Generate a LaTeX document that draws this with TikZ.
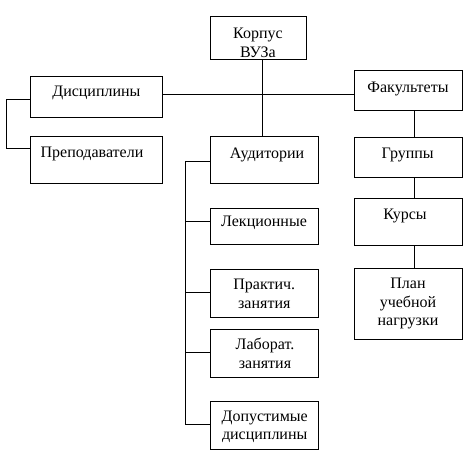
\documentclass[tikz,border=0pt]{standalone}
\usepackage{fontspec}
\setmainfont{Liberation Serif}
\begin{document}
\begin{tikzpicture}[x=1pt,y=1pt,
  box/.style={draw=black,line width=1pt,inner sep=0pt,fill=white},
  txt/.style={anchor=base,inner sep=0pt,align=center,font=\fontsize{16}{18.8}\selectfont},
  conn/.style={draw=black,line width=1pt}]
\useasboundingbox[fill=white] (0,0) rectangle (472,-462);
% boxes
\node[box,minimum width=95.6,minimum height=43.3] (korpus) at (258.5,-37.7) {};
\node[box,minimum width=131.6,minimum height=41.3] (disc) at (96.5,-97.35) {};
\node[box,minimum width=108,minimum height=40] (fak) at (408.7,-91) {};
\node[box,minimum width=131.6,minimum height=47.7] (prep) at (96.5,-160.15) {};
\node[box,minimum width=107.3,minimum height=47] (aud) at (264.35,-160.5) {};
\node[box,minimum width=108,minimum height=39.6] (grup) at (408.7,-157.5) {};
\node[box,minimum width=108,minimum height=47.3] (kurs) at (408.7,-222.35) {};
\node[box,minimum width=108,minimum height=36.3] (lek) at (264.3,-226.85) {};
\node[box,minimum width=108.4,minimum height=71.7] (plan) at (408.5,-304.15) {};
\node[box,minimum width=108,minimum height=48] (prak) at (264.3,-293.3) {};
\node[box,minimum width=108,minimum height=48] (lab) at (264.3,-353.3) {};
\node[box,minimum width=108,minimum height=48] (dop) at (264.3,-425.3) {};
% texts (anchor = baseline of last line)
\node[txt] (tkorpus) at (258,-57.5) {Корпус\\ВУЗа};
\node[txt] (tdisc) at (96.4,-96.6) {Дисциплины};
\node[txt] (tfak) at (408,-92.5) {Факультеты};
\node[txt] (tprep) at (92,-158) {Преподаватели};
\node[txt] (taud) at (267,-158.5) {Аудитории};
\node[txt] (tgrup) at (407.7,-159) {Группы};
\node[txt] (tkurs) at (405,-219.3) {Курсы};
\node[txt] (tlek) at (264,-227) {Лекционные};
\node[txt] (tplan) at (408,-326) {План\\учебной\\нагрузки};
\node[txt] (tprak) at (264.3,-308.3) {Практич.\\занятия};
\node[txt] (tlab) at (265,-368.7) {Лаборат.\\занятия};
\node[txt] (tdop) at (264.7,-440) {Допустимые\\дисциплины};
% helper coordinates
\coordinate (hy) at (0,-95);
\coordinate (vk) at (262.7,0);
\coordinate (vf) at (414.5,0);
\coordinate (lx) at (6.7,0);
\coordinate (ax) at (185.5,0);
\coordinate (ya) at (0,-161.3);
\coordinate (yl) at (0,-221.7);
\coordinate (yp) at (0,-292.3);
\coordinate (yb) at (0,-352.7);
\coordinate (yd) at (0,-425);
\coordinate (y1) at (0,-100);
\coordinate (y2) at (0,-149);
% connectors
\draw[conn] (disc.east |- hy) -- (fak.west |- hy);
\draw[conn] (korpus.south -| vk) -- (aud.north -| vk);
\draw[conn] (fak.south -| vf) -- (grup.north -| vf);
\draw[conn] (grup.south -| vf) -- (kurs.north -| vf);
\draw[conn] (kurs.south -| vf) -- (plan.north -| vf);
\draw[conn] (disc.west |- y1) -- (lx |- y1) -- (lx |- y2) -- (prep.west |- y2);
\draw[conn] (aud.west |- ya) -- (ax |- ya) -- (ax |- yd) -- (dop.west |- yd);
\draw[conn] (ax |- yl) -- (lek.west |- yl);
\draw[conn] (ax |- yp) -- (prak.west |- yp);
\draw[conn] (ax |- yb) -- (lab.west |- yb);
\end{tikzpicture}
\end{document}
